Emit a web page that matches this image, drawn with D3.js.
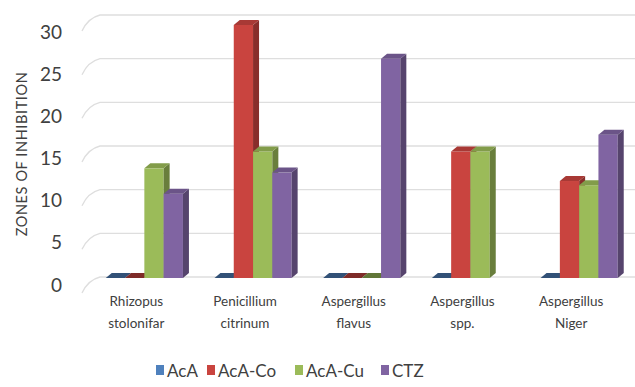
<!DOCTYPE html>
<html>
<head>
<meta charset="utf-8">
<script src="https://cdn.jsdelivr.net/npm/d3@7"></script>
<style>
  html, body { margin: 0; padding: 0; background: #fff; }
  svg { display: block; font-family: Lato, "Open Sans", sans-serif; }
</style>
</head>
<body>
<svg id="chart" width="635" height="387"></svg>
<script>
// Organisms tested, split into two label lines
const categories = ["Rhizopus stolonifar", "Penicillium citrinum", "Aspergillus flavus", "Aspergillus spp.", "Aspergillus Niger"];
const categoryLines = [["Rhizopus", "stolonifar"], ["Penicillium", "citrinum"], ["Aspergillus", "flavus"], ["Aspergillus", "spp."], ["Aspergillus", "Niger"]];

// Compounds (series)
const seriesNames = ["AcA", "AcA-Co", "AcA-Cu", "CTZ"];
const seriesColors = ["#4f81bd", "#c9443f", "#9bbb59", "#8064a2"];

// Zone of inhibition per compound, one value per organism
const valuesAcA   = [0, 0, 0, 0, 0];
const valuesAcACo = [0, 30, 0, 15, 11.5];
const valuesAcACu = [13, 15, 0, 15, 11];
const valuesCTZ   = [10, 12.5, 26, 0, 17];
const seriesValues = [valuesAcA, valuesAcACo, valuesAcACu, valuesCTZ];

const yTicks = [0, 5, 10, 15, 20, 25, 30];
const yTitle = "ZONES OF INHIBITION";

const svg = d3.select("#chart");

// Scales: front faces of columns, back wall gridlines, tick labels
const yFront = d3.scaleLinear().domain([0, 30]).range([278, 25]);
const yBack  = d3.scaleLinear().domain([0, 30]).range([277, 15]);
const yLabel = d3.scaleLinear().domain([0, 30]).range([285, 32]);

const x0 = d3.scaleBand().domain(categories).range([90, 633.5]).paddingInner(0.29).paddingOuter(0.145);
const x1 = d3.scaleBand().domain(seriesNames).range([0, x0.bandwidth()]);

const depthX = 6, depthY = 5;

// Back wall gridlines with the short receding segment on the left
const grid = svg.append("g").attr("fill", "none").attr("stroke", "#dedede").attr("stroke-width", 1.3);
yTicks.forEach(t => {
  const yb = yBack(t);
  grid.append("path").attr("d", `M82,${yb + 16} Q88,${yb + 3} 100,${yb} L635,${yb}`);
});

// Tick labels
const axis = d3.axisLeft(yLabel).tickValues(yTicks).tickSize(0).tickPadding(0);
const gAxis = svg.append("g").attr("transform", "translate(62,0)").call(axis);
gAxis.select(".domain").remove();
gAxis.selectAll("text")
  .attr("font-family", "Lato, sans-serif")
  .attr("font-size", 19)
  .attr("fill", "#404040");

// Axis title
svg.append("text")
  .attr("transform", "translate(27,154) rotate(-90)")
  .attr("text-anchor", "middle")
  .attr("font-size", 14.5)
  .attr("letter-spacing", 0.6)
  .attr("fill", "#404040")
  .text(yTitle);

// 3D columns
const bars = svg.append("g");
categories.forEach((cat, ci) => {
  seriesNames.forEach((s, si) => {
    const v = seriesValues[si][ci];
    if (s === "CTZ" && v === 0) return; // no CTZ column for this organism
    const x = x0(cat) + x1(s);
    const w = x1.bandwidth();
    const yt = yFront(v), yb = yFront(0);
    const base = d3.color(seriesColors[si]);
    const g = bars.append("g");
    if (yb - yt > 0) {
      g.append("rect").attr("x", x).attr("y", yt).attr("width", w).attr("height", yb - yt)
        .attr("fill", base.formatHex());
    }
    g.append("path")
      .attr("d", `M${x + w},${yt} L${x + w + depthX},${yt - depthY} L${x + w + depthX},${yb - depthY} L${x + w},${yb} Z`)
      .attr("fill", base.darker(1.1).formatHex());
    g.append("path")
      .attr("d", `M${x},${yt} L${x + depthX},${yt - depthY} L${x + w + depthX},${yt - depthY} L${x + w},${yt} Z`)
      .attr("fill", v === 0 ? base.darker(1.3).formatHex() : base.darker(0.5).formatHex());
  });
});

// Category labels
const labels = svg.append("g").attr("text-anchor", "middle").attr("font-size", 13.5).attr("fill", "#404040");
categories.forEach((cat, ci) => {
  const cx = x0(cat) + x0.bandwidth() / 2 - 8;
  categoryLines[ci].forEach((line, li) => {
    labels.append("text").attr("x", cx).attr("y", 306 + li * 22).text(line);
  });
});

// Legend
const legendX = [156, 207, 295, 381];
const legend = svg.append("g");
seriesNames.forEach((s, si) => {
  const lg = legend.append("g").attr("transform", `translate(${legendX[si]},0)`);
  lg.append("rect").attr("x", 0).attr("y", 365).attr("width", 8).attr("height", 10).attr("fill", seriesColors[si]);
  lg.append("text").attr("x", 11).attr("y", 377).attr("font-size", 17).attr("fill", "#404040").text(s);
});
</script>
</body>
</html>
